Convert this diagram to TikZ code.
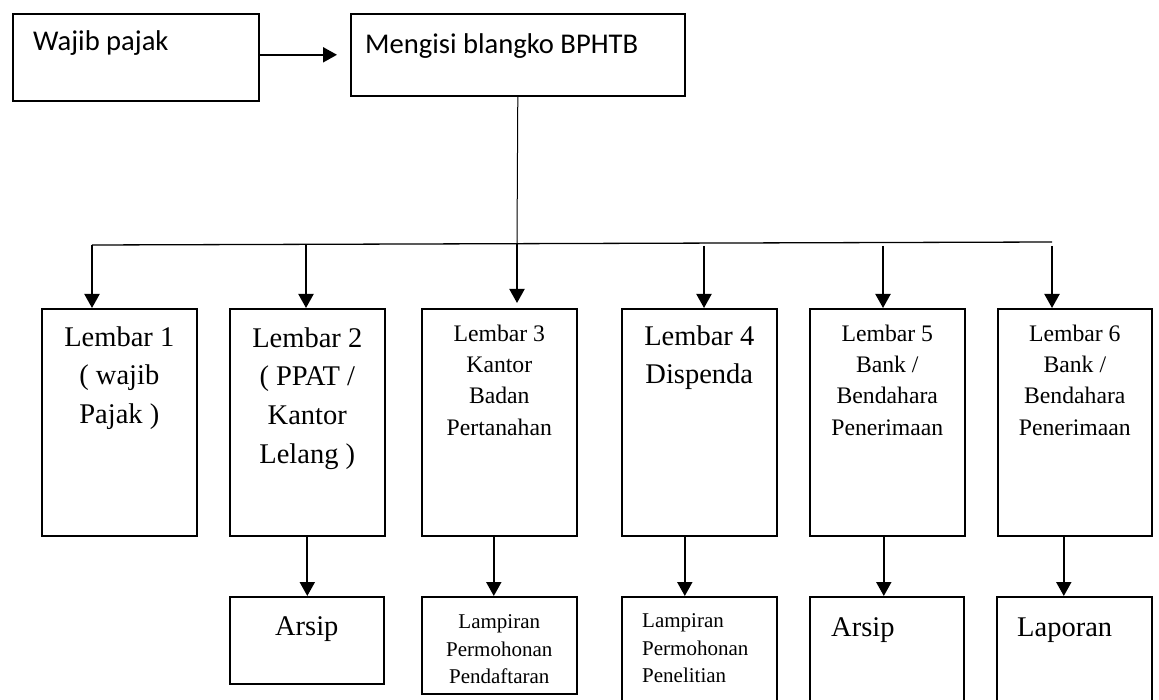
\documentclass[tikz,border=0pt]{standalone}
\usepackage{fontspec}
\setmainfont{Liberation Serif}
\newfontfamily\carlito{Carlito}
\usetikzlibrary{arrows.meta}
\begin{document}
\begin{tikzpicture}[x=1pt,y=-1pt,
  box/.style={draw=black, line width=1.6pt, inner sep=0pt, anchor=north west},
  lembox/.style={box, minimum width=155pt, minimum height=227pt},
  lbl/.style={inner sep=0pt, anchor=north, align=center},
  lbll/.style={inner sep=0pt, anchor=north west, align=left},
  big/.style={font=\fontsize{28.5}{38.6}\selectfont},
  mid/.style={font=\fontsize{23.7}{31.3}\selectfont},
  small/.style={font=\fontsize{21}{27.8}\selectfont},
  sans/.style={font=\carlito\fontsize{28.6}{34}\selectfont},
  arr/.style={line width=2pt, -{Triangle[length=14pt,width=15pt]}},
  link/.style={line width=1.3pt}]
\useasboundingbox[fill=white] (0,0) rectangle (1159,700);

% top row
\node[box, minimum width=246pt, minimum height=87pt] (wajib) at (12,13) {};
\node[lbll, sans] (twajib) at (33,13) {\rule{0pt}{37pt}Wajib pajak};
\node[box, minimum width=334pt, minimum height=82pt] (mengisi) at (350,13) {};
\node[lbll, sans] (tmeng) at (365,13) {\rule{0pt}{40pt}Mengisi blangko BPHTB};
\draw[arr, shorten >=13pt] (wajib.east |- mengisi.west) -- (mengisi.west);

% Lembar boxes
\node[lembox] (l1) at (41,308) {};
\node[lembox] (l2) at (229,308) {};
\node[lembox] (l3) at (421,308) {};
\node[lembox] (l4) at (621,308) {};
\node[lembox] (l5) at (809,308) {};
\node[lembox, minimum width=154pt] (l6) at (997,308) {};

\node[lbl, big] (tl1) at (l1.north) {\rule{0pt}{38pt}Lembar 1\\( wajib\\Pajak )};
\node[lbl, big] (tl2) at (l2.north) {\rule{0pt}{39pt}Lembar 2\\( PPAT /\\Kantor\\Lelang )};
\node[lbl, mid] (tl3) at (l3.north) {\rule{0pt}{33pt}Lembar 3\\Kantor\\Badan\\Pertanahan};
\node[lbl, big] (tl4) at (l4.north) {\rule{0pt}{37pt}Lembar 4\\Dispenda};
\node[lbl, mid] (tl5) at (l5.north) {\rule{0pt}{33pt}Lembar 5\\Bank /\\Bendahara\\Penerimaan};
\node[lbl, mid] (tl6) at (l6.north) {\rule{0pt}{33pt}Lembar 6\\Bank /\\Bendahara\\Penerimaan};

% bottom boxes
\node[box, minimum width=154pt, minimum height=87pt] (a2) at (229,596) {};
\node[box, minimum width=155pt, minimum height=97pt] (a3) at (421,596) {};
\node[box, minimum width=155pt, minimum height=114pt] (a4) at (621,596) {};
\node[box, minimum width=154pt, minimum height=114pt] (a5) at (809,596) {};
\node[box, minimum width=155pt, minimum height=114pt] (a6) at (996,596) {};

\node[lbl, big] (ta2) at (a2.north) {\rule{0pt}{39pt}Arsip};
\node[lbl, small] (ta3) at (a3.north) {\rule{0pt}{32pt}Lampiran\\Permohonan\\Pendaftaran};
\node[lbll, small] (ta4) at ([xshift=21pt]a4.north west) {\rule{0pt}{31pt}Lampiran\\Permohonan\\Penelitian};
\node[lbll, big] (ta5) at ([xshift=22pt]a5.north west) {\rule{0pt}{40pt}Arsip};
\node[lbll, big] (ta6) at ([xshift=21pt]a6.north west) {\rule{0pt}{40pt}Laporan};

% distribution line
\coordinate (hl) at (92,245);
\coordinate (hr) at (1052,242);
\coordinate (j2) at (306,244.3);
\coordinate (j3) at (517,243.7);
\coordinate (j4) at (704,246);
\coordinate (j5) at (883,246);
\coordinate (j6) at (1052,246);
\draw[link] (hl) -- (hr);
\draw[line width=1pt] (mengisi.south) -- (j3);
\draw[arr] (hl) -- (hl |- l1.north);
\draw[arr] (j2) -- (j2 |- l2.north);
\draw[arr, shorten >=5pt] (j3) -- (j3 |- l3.north);
\draw[arr] (j4) -- (j4 |- l4.north);
\draw[arr] (j5) -- (j5 |- l5.north);
\draw[arr] (j6) -- (j6 |- l6.north);

% lower arrows
\draw[arr] (l2.south) -- (l2.south |- a2.north);
\draw[arr] ([xshift=-5.5pt]l3.south) -- ([xshift=-5.5pt]l3.south |- a3.north);
\draw[arr] ([xshift=-14.5pt]l4.south) -- ([xshift=-14.5pt]l4.south |- a4.north);
\draw[arr] ([xshift=-3.5pt]l5.south) -- ([xshift=-3.5pt]l5.south |- a5.north);
\draw[arr] ([xshift=-11pt]l6.south) -- ([xshift=-11pt]l6.south |- a6.north);
\end{tikzpicture}
\end{document}
